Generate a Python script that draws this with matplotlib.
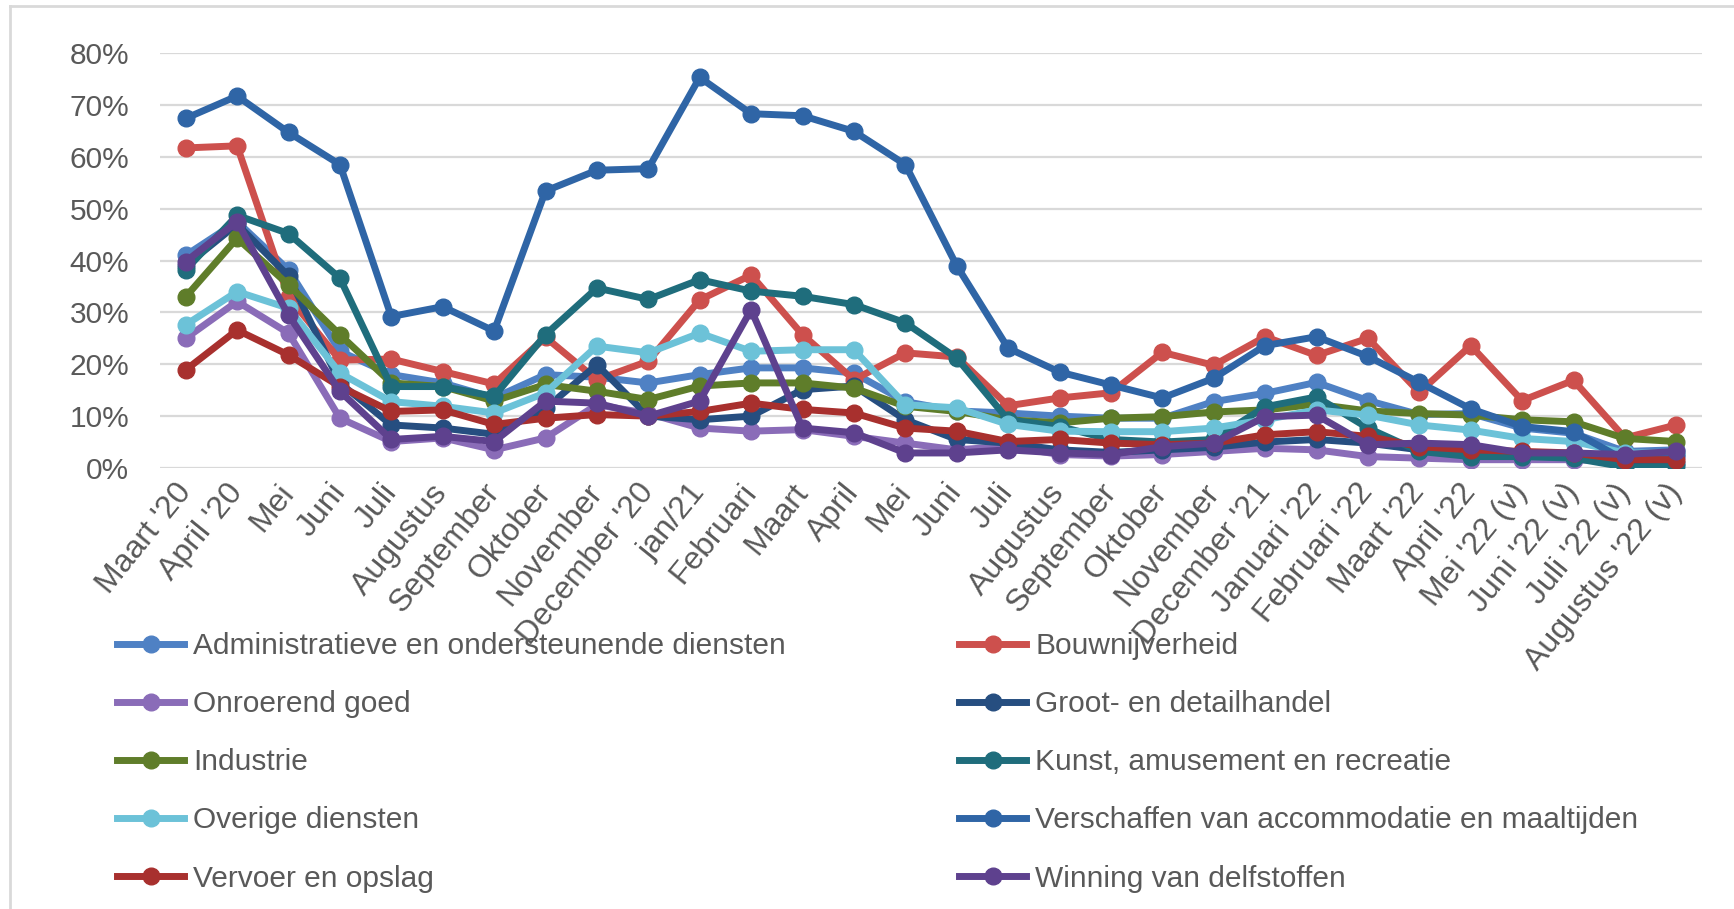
import numpy as np
import matplotlib.pyplot as plt
from matplotlib.lines import Line2D

plt.rcParams['font.family'] = ['Liberation Sans', 'DejaVu Sans']

# categories (months)
months = ["Maart '20", "April '20", "Mei", "Juni", "Juli", "Augustus", "September",
          "Oktober", "November", "December '20", "jan/21", "Februari", "Maart", "April",
          "Mei", "Juni", "Juli", "Augustus", "September", "Oktober", "November",
          "December '21", "Januari '22", "Februari '22", "Maart '22", "April '22",
          "Mei '22 (v)", "Juni '22 (v)", "Juli '22 (v)", "Augustus '22 (v)"]

# values in percent
admin = [41.0, 47.5, 38.2, 22.5, 18.0, 16.4, 13.5, 18.0, 17.5, 16.4, 18.0, 19.3, 19.3, 18.3, 12.8,
         11.0, 10.6, 10.0, 9.6, 9.6, 12.8, 14.4, 16.5, 13.0, 10.3, 10.5, 7.7, 6.7, 3.2, 3.5]
bouw = [61.7, 62.1, 33.0, 20.8, 21.0, 18.6, 16.2, 25.2, 17.0, 20.6, 32.4, 37.2, 25.7, 17.0, 22.2,
        21.4, 12.0, 13.5, 14.5, 22.3, 19.8, 25.3, 21.7, 25.0, 14.6, 23.6, 13.0, 16.9, 5.8, 8.3]
onroerend = [25.0, 32.1, 26.0, 9.6, 5.1, 5.8, 3.5, 5.8, 12.2, 10.5, 7.7, 7.1, 7.4, 6.1, 4.8,
             3.5, 4.2, 2.6, 2.3, 2.6, 3.2, 3.8, 3.5, 2.2, 1.9, 1.6, 1.6, 1.6, 1.3, 2.2]
groot = [39.0, 47.0, 37.0, 16.4, 8.3, 7.7, 6.5, 11.5, 19.9, 10.0, 9.3, 10.0, 15.1, 15.8, 9.3,
         5.5, 4.8, 3.5, 3.0, 3.5, 4.0, 5.0, 5.5, 4.8, 3.5, 2.9, 2.6, 2.2, 1.0, 1.0]
industrie = [33.0, 44.3, 35.3, 25.7, 16.4, 15.7, 12.9, 16.1, 14.8, 13.2, 15.8, 16.4, 16.4, 15.4, 11.9,
             10.9, 9.3, 8.7, 9.6, 9.9, 10.8, 11.2, 12.3, 11.0, 10.5, 10.2, 9.3, 8.9, 5.7, 5.1]
kunst = [38.2, 48.7, 45.2, 36.6, 15.7, 15.7, 13.8, 25.7, 34.7, 32.5, 36.3, 34.1, 33.1, 31.5, 28.0,
         21.2, 9.3, 8.0, 5.5, 5.0, 5.5, 11.8, 13.7, 7.7, 3.2, 2.2, 2.2, 1.9, 0.2, 0.3]
overige = [27.6, 34.0, 30.8, 18.3, 12.8, 11.9, 10.6, 14.5, 23.5, 22.2, 26.0, 22.5, 22.8, 22.8, 12.2,
           11.6, 8.4, 7.1, 7.0, 7.0, 7.7, 9.3, 11.2, 10.2, 8.3, 7.3, 5.7, 5.1, 2.9, 2.9]
verschaffen = [67.4, 71.7, 64.7, 58.5, 29.2, 31.1, 26.4, 53.4, 57.4, 57.7, 75.3, 68.3, 67.9, 64.9, 58.5,
               39.0, 23.1, 18.5, 16.0, 13.5, 17.3, 23.6, 25.3, 21.5, 16.5, 11.4, 8.0, 7.0, 1.5, 2.5]
vervoer = [18.9, 26.6, 21.8, 15.7, 10.9, 11.2, 8.4, 9.6, 10.3, 10.0, 10.9, 12.5, 11.3, 10.6, 7.7,
           7.1, 5.1, 5.5, 4.8, 4.5, 4.8, 6.4, 7.0, 6.1, 4.1, 3.5, 3.2, 2.9, 1.6, 1.6]
winning = [39.8, 47.5, 29.5, 14.8, 5.5, 6.1, 5.1, 12.9, 12.5, 10.0, 12.9, 30.5, 7.7, 6.8, 2.9,
           2.9, 3.5, 2.9, 2.6, 4.1, 4.8, 9.9, 10.2, 4.5, 4.8, 4.5, 2.9, 2.9, 2.6, 3.2]

names = ["Administratieve en ondersteunende diensten", "Bouwnijverheid",
         "Onroerend goed", "Groot- en detailhandel",
         "Industrie", "Kunst, amusement en recreatie",
         "Overige diensten", "Verschaffen van accommodatie en maaltijden",
         "Vervoer en opslag", "Winning van delfstoffen"]
series = [admin, bouw, onroerend, groot, industrie, kunst, overige, verschaffen, vervoer, winning]
colors = ["#4F81C4", "#CD504D", "#8A6CB8", "#264E80", "#5F7D2A",
          "#1F6D7C", "#6CC2D8", "#2F65A6", "#A8302E", "#5E418E"]

txt = "#595959"
W, H = 1734, 909
fig = plt.figure(figsize=(W / 100, H / 100), dpi=100)
ax = fig.add_axes([160 / W, 1 - 468 / H, (1702 - 160) / W, (468 - 53) / H])

x = np.arange(len(months))
handles = []
for vals, c, n in zip(series, colors, names):
    h, = ax.plot(x, np.array(vals) / 100, color=c, lw=5, marker='o', ms=12, label=n)
    handles.append(h)

ax.set_xlim(-0.5, len(months) - 0.5)
ax.set_ylim(0, 0.8)
ax.set_yticks(np.arange(0, 0.81, 0.1))
ax.set_yticklabels([f"{int(round(v * 100))}%" for v in np.arange(0, 0.81, 0.1)])
ax.yaxis.grid(True, color="#D9D9D9", lw=1.6)
ax.set_axisbelow(True)
for s in ax.spines.values():
    s.set_visible(False)
ax.tick_params(axis='both', length=0, labelsize=21.5, labelcolor=txt)
ax.tick_params(axis='y', pad=22)
ax.set_xticks(x)
ax.set_xticklabels(months, rotation=51, ha='right', va='center', rotation_mode='anchor',
                   fontsize=23)
ax.tick_params(axis='x', pad=14)

# legend: column-major order for 2 columns
order = [0, 2, 4, 6, 8, 1, 3, 5, 7, 9]
fig.legend([handles[i] for i in order], [names[i] for i in order], ncol=2,
           loc='upper left', bbox_to_anchor=(117 / W, 1 - 632 / H), frameon=False,
           borderpad=0, borderaxespad=0, handlelength=2.25, handletextpad=0.3,
           columnspacing=5.8, labelspacing=1.01, fontsize=21.5, labelcolor=txt)

# outer chart border (top and left visible)
fig.add_artist(Line2D([10 / W, 1], [1 - 6 / H, 1 - 6 / H], color="#D9D9D9", lw=2))
fig.add_artist(Line2D([10 / W, 10 / W], [0, 1 - 6 / H], color="#D9D9D9", lw=2))

fig.savefig("out.png", dpi=100)
